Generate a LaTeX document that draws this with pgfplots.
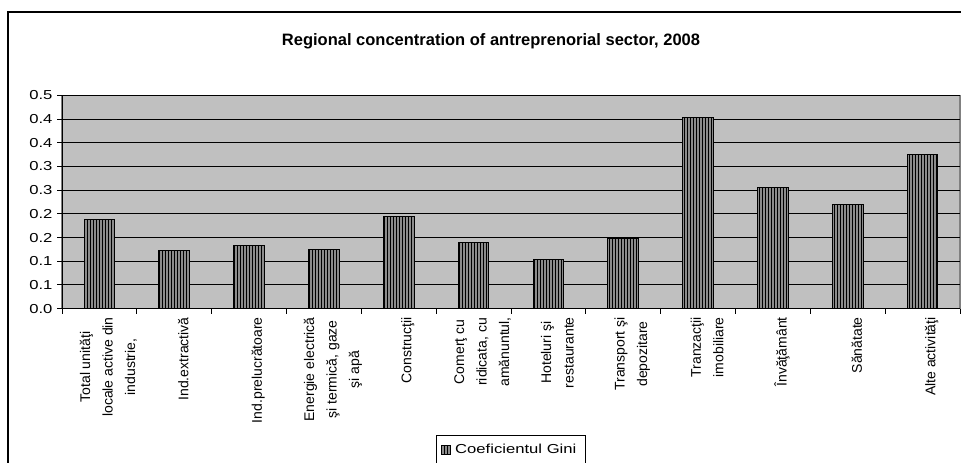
\documentclass[border=0pt]{standalone}
\usepackage{fontspec}
\setmainfont{Liberation Sans}
\newfontfamily\widesans[FakeStretch=1.28]{Liberation Sans}
\usepackage{pgfplots}
\pgfplotsset{compat=1.18}
\usetikzlibrary{patterns}
\definecolor{plotbg}{HTML}{C0C0C0}
\definecolor{barfill}{HTML}{8C8C8C}
\definecolor{frameg}{HTML}{808080}

\begin{document}
\begin{tikzpicture}[x=1pt,y=1pt]
  \path[use as bounding box] (0,0) rectangle (961,463);
  \draw[line width=1.2pt] (8,-30) rectangle (990,451);
  \begin{axis}[
      at={(62pt,154.3pt)}, anchor=south west,
      scale only axis, width=898pt, height=213.4pt,
      ybar, bar width=30.7pt,
      xmin=-0.5, xmax=11.5,
      ymin=0, ymax=0.45,
      axis x line*=bottom, axis y line*=left,
      axis line style={black, line width=1pt},
      axis background/.style={fill=plotbg, draw=frameg, line width=1.2pt},
      ymajorgrids, major grid style={black, line width=1pt},
      ytick={0,0.05,...,0.46},
      yticklabels={0.0,0.1,0.1,0.2,0.2,0.3,0.3,0.4,0.4,0.5},
      yticklabel style={font=\widesans\fontsize{13}{15}\selectfont, xshift=-1pt},
      xtick={0,...,11},
      minor xtick={-0.5,0.5,...,11.5},
      tick align=outside,
      major tick length=5pt,
      major x tick style={draw=none},
      minor tick length=5pt,
      tick style={black, line width=1pt},
      xticklabels={
        {Total unităţi\\locale active din\\industrie,},
        {Ind.extractivă},
        {Ind.prelucrătoare},
        {Energie electrică\\şi termică, gaze\\şi apă},
        {Construcţii},
        {Comerţ cu\\ridicata, cu\\amănuntul,},
        {Hoteluri şi\\restaurante},
        {Transport şi\\depozitare},
        {Tranzacţii\\imobiliare},
        {Învăţământ},
        {Sănătate},
        {Alte activităţi}},
      xticklabel style={rotate=90, anchor=east, align=center,
        font=\fontsize{14}{22.5}\selectfont, yshift=-9pt},
      legend style={at={(0.5,-0.592)}, anchor=north, draw=black,
        line width=1pt, font=\widesans\fontsize{13}{15}\selectfont,
        inner xsep=4pt, inner ysep=7pt,
        nodes={inner xsep=5pt}},
      legend image code/.code={\draw[#1, line width=0.6pt] (0pt,-4.5pt) rectangle (9pt,4.5pt);},
    ]
    \addplot[fill=barfill, draw=black, line width=1pt,
      postaction={pattern=vertical lines, pattern color=black}]
      coordinates {(0,0.1885)(1,0.1224)(2,0.1336)(3,0.1245)(4,0.1948)(5,0.140)
                   (6,0.104)(7,0.147)(8,0.4037)(9,0.256)(10,0.220)(11,0.3256)};
    \legend{Coeficientul Gini}
  \end{axis}
  \node[anchor=base, font=\bfseries\fontsize{16.5}{19}\selectfont] at (491,417.5)
    {Regional concentration of antreprenorial sector, 2008};
\end{tikzpicture}
\end{document}
